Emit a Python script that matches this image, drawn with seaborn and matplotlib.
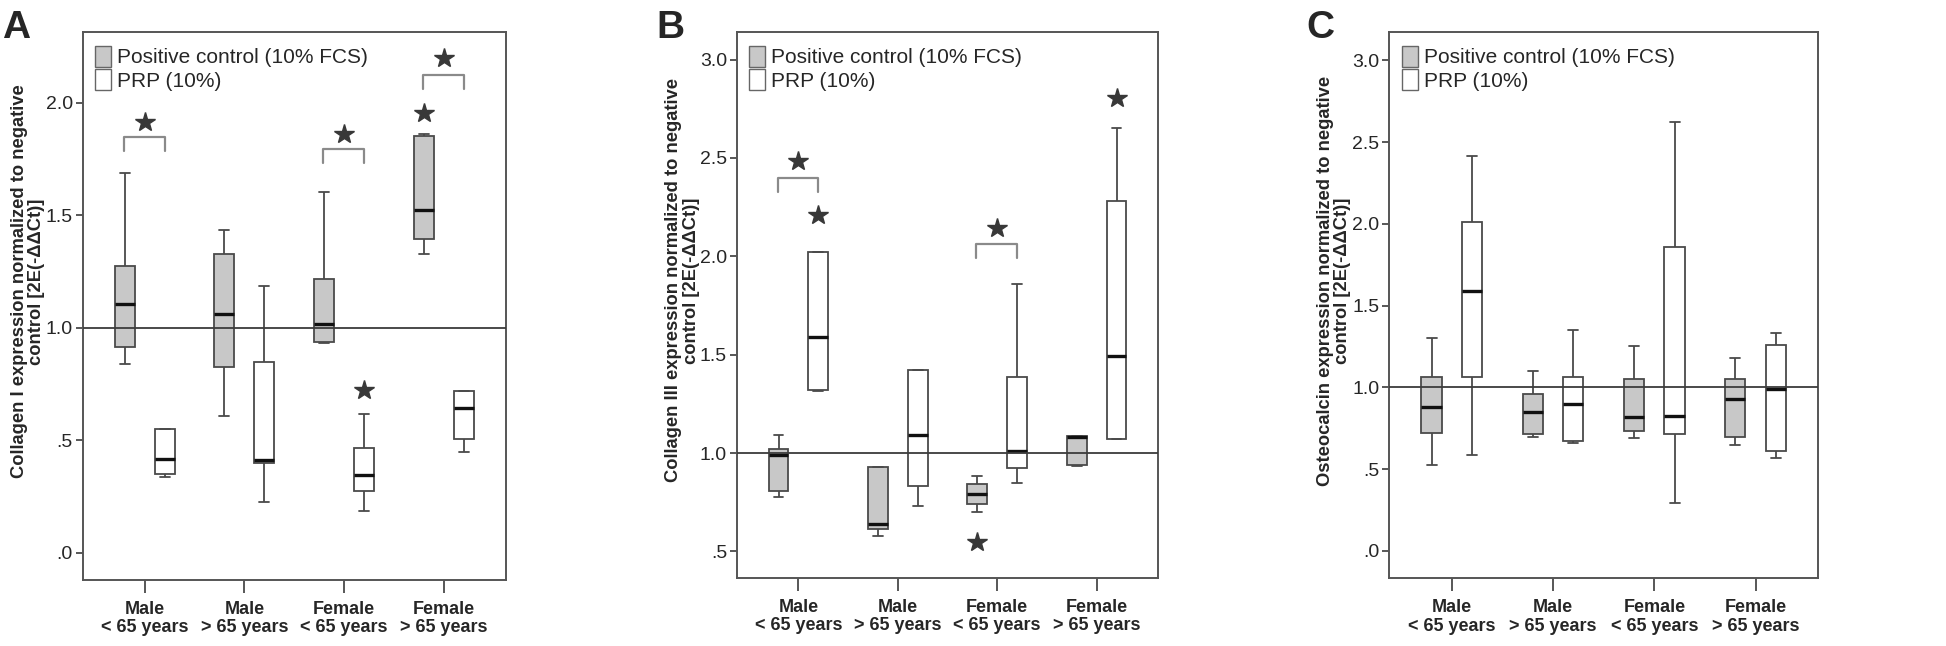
import numpy as np
import pandas as pd
import seaborn as sns
import matplotlib
matplotlib.use('Agg')
import matplotlib.pyplot as plt
from matplotlib.patches import Patch

# categories
groups = ['Male\n< 65 years', 'Male\n> 65 years', 'Female\n< 65 years', 'Female\n> 65 years']
treatments = ['Positive control (10% FCS)', 'PRP (10%)']

# five number summaries per box: [low whisker, q1, median, q3, high whisker]
col1_fcs = [[0.84, 0.913, 1.105, 1.276, 1.686],
            [0.606, 0.827, 1.061, 1.326, 1.436],
            [0.93, 0.935, 1.016, 1.215, 1.602],
            [1.326, 1.394, 1.523, 1.853, 1.86]]
col1_prp = [[0.338, 0.348, 0.416, 0.548, 0.548],
            [0.227, 0.397, 0.412, 0.846, 1.187],
            [0.187, 0.274, 0.347, 0.467, 0.615],
            [0.446, 0.505, 0.644, 0.717, 0.717]]
col3_fcs = [[0.778, 0.807, 0.99, 1.02, 1.092],
            [0.58, 0.612, 0.641, 0.93, 0.93],
            [0.70, 0.742, 0.793, 0.841, 0.883],
            [0.935, 0.939, 1.083, 1.088, 1.088]]
col3_prp = [[1.315, 1.319, 1.588, 2.02, 2.02],
            [0.731, 0.832, 1.092, 1.42, 1.42],
            [0.849, 0.922, 1.01, 1.388, 1.859],
            [1.071, 1.071, 1.493, 2.283, 2.651]]
ost_fcs = [[0.528, 0.72, 0.879, 1.066, 1.301],
           [0.699, 0.718, 0.85, 0.96, 1.103],
           [0.689, 0.736, 0.818, 1.05, 1.256],
           [0.648, 0.697, 0.93, 1.05, 1.178]]
ost_prp = [[0.587, 1.066, 1.592, 2.014, 2.416],
           [0.663, 0.675, 0.899, 1.066, 1.352],
           [0.296, 0.718, 0.828, 1.861, 2.622],
           [0.567, 0.613, 0.993, 1.262, 1.331]]

# extreme values (stars): group index, treatment index, value
col1_extremes = [(2, 1, 0.723), (3, 0, 1.953)]
col3_extremes = [(0, 1, 2.21), (2, 0, 0.549), (3, 1, 2.806)]
ost_extremes = []

# significance brackets: group index, bracket top, star height
col1_sig = [(0, 1.849, 1.913), (2, 1.794, 1.859), (3, 2.123, 2.197)]
col3_sig = [(0, 2.400, 2.484), (2, 2.061, 2.142)]
ost_sig = []

ylabels = ['Collagen I expression normalized to negative\ncontrol [2E(-ΔΔCt)]',
           'Collagen III expression normalized to negative\ncontrol [2E(-ΔΔCt)]',
           'Osteocalcin expression normalized to negative\ncontrol [2E(-ΔΔCt)]']
yticks_list = [[0, 0.5, 1.0, 1.5, 2.0],
               [0.5, 1.0, 1.5, 2.0, 2.5, 3.0],
               [0, 0.5, 1.0, 1.5, 2.0, 2.5, 3.0]]
ylims = [(-0.121, 2.313), (0.366, 3.139), (-0.167, 3.172)]
letters = ['A', 'B', 'C']

sns.set_style('ticks')
plt.rcParams['font.family'] = ['Liberation Sans', 'DejaVu Sans']

edge = '#4a4a4a'
grey_fill = '#c8c8c8'
star_col = '#383838'


def make_df(fcs, prp):
    rows = []
    for g, vals in zip(groups, fcs):
        for v in vals:
            rows.append((g, treatments[0], v))
    for g, vals in zip(groups, prp):
        for v in vals:
            rows.append((g, treatments[1], v))
    return pd.DataFrame(rows, columns=['group', 'treatment', 'value'])


def tick_label(v):
    s = f'{v:.1f}'
    return s[1:] if s.startswith('0') else s


fig = plt.figure(figsize=(19.46, 6.46), dpi=100)
positions = [[0.0425, 0.1022, 0.2174, 0.8478],
             [0.3786, 0.1057, 0.2166, 0.8443],
             [0.7138, 0.1048, 0.2206, 0.8452]]
letter_x = [0.001, 0.3375, 0.6715]

panels = [(col1_fcs, col1_prp, col1_extremes, col1_sig),
          (col3_fcs, col3_prp, col3_extremes, col3_sig),
          (ost_fcs, ost_prp, ost_extremes, ost_sig)]

offsets = [-0.2, 0.2]

for i, (fcs, prp, extremes, sig) in enumerate(panels):
    ax = fig.add_axes(positions[i])
    df = make_df(fcs, prp)
    sns.boxplot(data=df, x='group', y='value', hue='treatment',
                order=groups, hue_order=treatments,
                palette={treatments[0]: grey_fill, treatments[1]: 'white'},
                whis=(0, 100), width=0.8, gap=0.5, linecolor=edge,
                linewidth=1.3, medianprops={'color': '#111111', 'linewidth': 2.4},
                legend=False, ax=ax)

    # reference line at 1.0 sits on top of the boxes
    ax.axhline(1.0, color='#3c3c3c', lw=1.3, zorder=5)

    for g, t, v in extremes:
        ax.plot(g + offsets[t], v, marker='*', ms=15, color=star_col,
                ls='none', zorder=6)

    lo, hi = ylims[i]
    leg = 0.0256 * (hi - lo)
    for g, top, star in sig:
        ax.plot([g - 0.21, g - 0.21, g + 0.2, g + 0.2],
                [top - leg, top, top, top - leg], color='#8a8a8a', lw=1.6)
        ax.plot(g, star, marker='*', ms=15, color=star_col, ls='none', zorder=6)

    ax.set_xlim(-0.62, 3.62)
    ax.set_ylim(lo, hi)
    ax.set_yticks(yticks_list[i])
    ax.set_yticklabels([tick_label(v) for v in yticks_list[i]], fontsize=14)
    ax.set_xticks(range(len(groups)))
    ax.set_xticklabels(groups, fontsize=13, fontweight='bold', linespacing=1.12)
    ax.set_xlabel('')
    ax.set_ylabel(ylabels[i], fontsize=13.2, fontweight='bold', linespacing=1.05)
    ax.yaxis.set_label_coords(-0.088, 0.545)
    ax.tick_params(axis='x', length=9, width=1.3, color=edge, pad=6)
    ax.tick_params(axis='y', length=5, width=1.3, color=edge, pad=2)
    for sp in ax.spines.values():
        sp.set_visible(True)
        sp.set_color('#555555')
        sp.set_linewidth(1.4)

    handles = [Patch(facecolor=grey_fill, edgecolor='#666666', lw=1.0),
               Patch(facecolor='white', edgecolor='#666666', lw=1.0)]
    ax.legend(handles, treatments, loc='upper left', bbox_to_anchor=(0.03, 0.975),
              borderaxespad=0, borderpad=0, frameon=False, fontsize=15,
              handlelength=0.75, handleheight=1.15, handletextpad=0.3,
              labelspacing=0.1)

    fig.text(letter_x[i], 0.985, letters[i], fontsize=28, fontweight='bold',
             va='top', ha='left')

fig.savefig('out.png', dpi=100)
